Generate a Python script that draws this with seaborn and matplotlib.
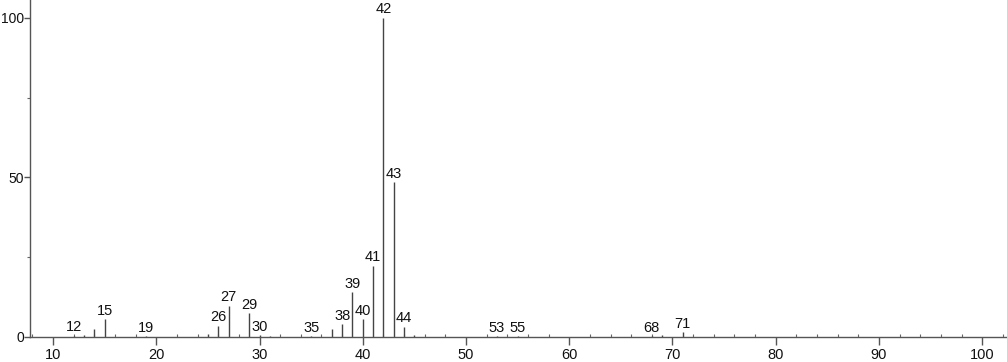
import matplotlib
matplotlib.use("Agg")
import matplotlib.pyplot as plt
import seaborn as sns
import pandas as pd
from matplotlib.ticker import MultipleLocator

# m/z values and relative intensities
mz = [12, 13, 14, 15, 19, 25, 26, 27, 29, 30, 31, 35, 37, 38, 39, 40, 41, 42, 43, 44, 45, 53, 55, 68, 69, 71]
intensity = [0.4, 0.5, 2.6, 5.6, 0.2, 0.8, 3.6, 9.8, 7.4, 0.5, 0.3, 0.3, 2.6, 4.1, 14.0, 5.6, 22.4, 100.0, 48.6, 3.2, 0.6, 0.3, 0.3, 0.3, 0.5, 1.5]
labeled = [12, 15, 19, 26, 27, 29, 30, 35, 38, 39, 40, 41, 42, 43, 44, 53, 55, 68, 71]

df = pd.DataFrame({"mz": mz, "intensity": intensity})

sns.set_theme(style="ticks")
plt.rcParams["font.family"] = ["Liberation Sans", "DejaVu Sans"]

fig = plt.figure(figsize=(10.07, 3.62), dpi=100)
ax = fig.add_axes([30 / 1007, 25 / 362, 977 / 1007, 337 / 362])

ax.vlines(df["mz"], 0, df["intensity"], color="#444444", linewidth=1.0)

for m, h in zip(df["mz"], df["intensity"]):
    if m in labeled:
        ax.annotate(str(m), xy=(m, h), xytext=(0, 1.0), textcoords="offset points",
                    ha="center", va="bottom", fontsize=10.5, color="#111111")

ax.set_xlim(7.77, 102.4)
ax.set_ylim(0, 105.6)

ax.xaxis.set_major_locator(MultipleLocator(10))
ax.xaxis.set_minor_locator(MultipleLocator(2))
ax.yaxis.set_major_locator(MultipleLocator(50))
ax.yaxis.set_minor_locator(MultipleLocator(25))

ax.tick_params(axis="x", which="major", direction="out", length=6, width=1, color="#555555",
               labelsize=10.5, labelcolor="#111111", pad=2)
ax.tick_params(axis="x", which="minor", direction="in", length=2.5, width=0.8, color="#666666")
ax.tick_params(axis="y", which="major", direction="out", length=4, width=1, color="#555555",
               labelsize=10, labelcolor="#111111", pad=0.3)
ax.tick_params(axis="y", which="minor", direction="out", length=2, width=0.8, color="#666666")

for s in ["top", "right"]:
    ax.spines[s].set_visible(False)
for s in ["left", "bottom"]:
    ax.spines[s].set_color("#555555")
    ax.spines[s].set_linewidth(1.0)

ax.set_xlabel("")
ax.set_ylabel("")

fig.savefig("out.png", dpi=100)
